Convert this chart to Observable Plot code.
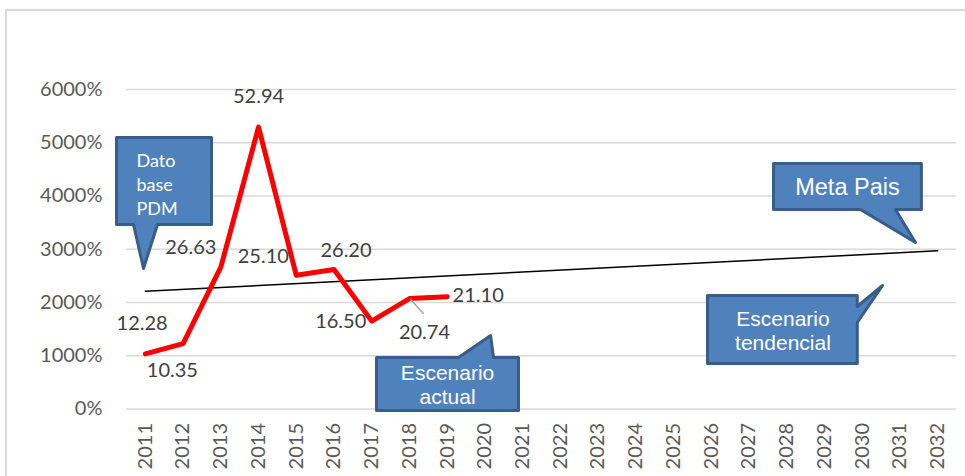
<!DOCTYPE html>
<html>
<head>
<meta charset="utf-8">
<script src="https://cdn.jsdelivr.net/npm/d3@7"></script>
<script src="https://cdn.jsdelivr.net/npm/@observablehq/plot@0.6"></script>
<style>
  html, body { margin: 0; padding: 0; background: #fff; }
  #wrap { position: relative; width: 965px; height: 476px; overflow: hidden; }
  #frame { position: absolute; left: 5px; top: 9px; width: 970px; height: 480px;
           border-top: 2px solid #d9d9d9; border-left: 2px solid #d9d9d9; pointer-events: none; }
</style>
</head>
<body>
<div id="wrap"><div id="chart"></div><div id="frame"></div></div>
<script>
// ---- data ----
const years = [2011, 2012, 2013, 2014, 2015, 2016, 2017, 2018, 2019, 2020, 2021,
               2022, 2023, 2024, 2025, 2026, 2027, 2028, 2029, 2030, 2031, 2032];
const yTicks = [0, 1000, 2000, 3000, 4000, 5000, 6000];
const actualYears = [2011, 2012, 2013, 2014, 2015, 2016, 2017, 2018, 2019];
const actualValues = [1035, 1228, 2663, 5294, 2510, 2620, 1650, 2074, 2110];
const actualLabels = ["10.35", "12.28", "26.63", "52.94", "25.10", "26.20", "16.50", "20.74", "21.10"];
const trendYears = [2011, 2032];
const trendValues = [2210, 2970];

// label offsets (px) relative to each point
const labelDx = [27, -41, -30, 0, -33, 12, -31, 15, 31];
const labelDy = [17, -20, -20, -31, -19, -19, 0, 34, -1];

// leader line for the 20.74 label (data units)
const leaderYears = [2018.03, 2018.37];
const leaderValues = [2056, 1793];

// callout shapes (polygon vertices in data units)
const calloutShapes = [
  {id: "dato", pts: [[2010.235,5099],[2012.753,5099],[2012.753,3465],[2011.322,3465],[2010.951,2639],[2010.686,3465],[2010.235,3465],[2010.235,5099]]},
  {id: "meta", pts: [[2027.65,4610],[2031.57,4610],[2031.57,3746],[2030.883,3746],[2031.413,3127],[2029.955,3746],[2027.65,3746],[2027.65,4610]]},
  {id: "tend", pts: [[2025.90,2131],[2029.87,2131],[2029.87,1925],[2030.54,2319],[2029.87,1624],[2029.87,855],[2025.90,855],[2025.90,2131]]},
  {id: "actual", pts: [[2017.127,967],[2019.30,967],[2020.15,1380],[2020.228,967],[2020.89,967],[2020.89,-28],[2017.127,-28],[2017.127,967]]}
];
const calloutPts = calloutShapes.flatMap(c => c.pts.map(([x, y]) => ({id: c.id, x, y})));

const narrow = "'Liberation Sans', Arial, sans-serif";

const actual = actualYears.map((x, i) => ({x, y: actualValues[i], label: actualLabels[i]}));
const trend = trendYears.map((x, i) => ({x, y: trendValues[i]}));
const leader = leaderYears.map((x, i) => ({x, y: leaderValues[i]}));

const plot = Plot.plot({
  width: 965,
  height: 476,
  marginLeft: 126,
  marginRight: 9,
  marginTop: 89,
  marginBottom: 67.5,
  style: {fontFamily: "Lato, sans-serif", fontSize: "20px", color: "#595959", background: "transparent"},
  x: {domain: [2010.5, 2032.5]},
  y: {domain: [0, 6000]},
  marks: [
    Plot.gridY(yTicks, {stroke: "#d9d9d9", strokeOpacity: 1, strokeWidth: 1.5}),
    Plot.axisY(yTicks, {tickSize: 0, tickPadding: 24, tickFormat: d => d + "%", fontSize: 20, label: null}),
    Plot.axisX(years, {tickSize: 0, tickPadding: 14, tickRotate: -90, tickFormat: d => String(d), fontSize: 20, label: null}),
    Plot.line(trend, {x: "x", y: "y", stroke: "#000", strokeWidth: 1.5}),
    Plot.line(actual, {x: "x", y: "y", stroke: "#ff0000", strokeWidth: 5, strokeLinejoin: "round", strokeLinecap: "round"}),
    Plot.line(leader, {x: "x", y: "y", stroke: "#a6a6a6", strokeWidth: 1.5}),
    ...actual.map((d, i) => Plot.text([d], {x: "x", y: "y", text: "label", dx: labelDx[i], dy: labelDy[i],
      fill: "#404040", fontSize: 20, fontFamily: "Lato, sans-serif"})),
    Plot.line(calloutPts, {x: "x", y: "y", z: "id", fill: "#4f81bd", stroke: "#385d8a", strokeWidth: 3,
      strokeLinejoin: "round", strokeLinecap: "round"}),
    Plot.text([{x: 2010.765, y: 3634, t: "Dato\nbase\nPDM"}], {x: "x", y: "y", text: "t", textAnchor: "start",
      lineAnchor: "bottom", lineHeight: 1.36, fill: "#fff", fontSize: 18, fontFamily: "Lato, sans-serif"}),
    Plot.text([{x: 2029.61, y: 4026, t: "Meta Pais"}], {x: "x", y: "y", text: "t", lineAnchor: "bottom",
      fill: "#fff", fontSize: 23.5, fontFamily: narrow, ariaLabel: "narrowtext"}),
    Plot.text([{x: 2027.90, y: 1117, t: "Escenario\ntendencial"}], {x: "x", y: "y", text: "t", lineAnchor: "bottom",
      lineHeight: 1.11, fill: "#fff", fontSize: 21, fontFamily: narrow, ariaLabel: "narrowtext"}),
    Plot.text([{x: 2019.01, y: 85, t: "Escenario\nactual"}], {x: "x", y: "y", text: "t", lineAnchor: "bottom",
      lineHeight: 1.18, fill: "#fff", fontSize: 21, fontFamily: narrow, ariaLabel: "narrowtext"})
  ]
});
document.getElementById("chart").appendChild(plot);
// condense the callout text horizontally (Arial Narrow look)
d3.select(plot).selectAll('g[aria-label="narrowtext"] text').each(function () {
  const t = this.getAttribute("transform") || "";
  this.setAttribute("transform", t + " scale(0.82,1)");
});
</script>
</body>
</html>
